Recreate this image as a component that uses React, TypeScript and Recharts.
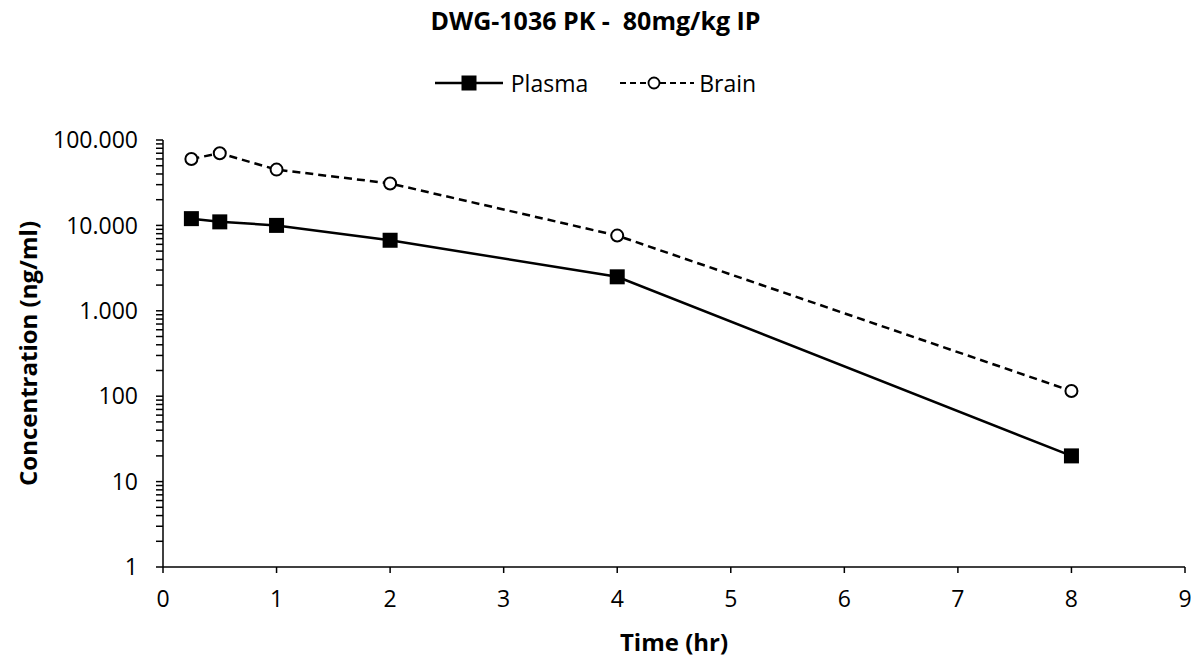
import React from 'react';
import { LineChart, Line, XAxis, YAxis, Legend, Label } from 'recharts';

// sampling times (hr) and measured concentrations (ng/ml)
const times = [0.25, 0.5, 1, 2, 4, 8];
const plasma = [12000, 11000, 10000, 6700, 2500, 20];
const brain = [60000, 70000, 45000, 31000, 7600, 115];

const xTicks = [0, 1, 2, 3, 4, 5, 6, 7, 8, 9];
const yMajorTicks = [1, 10, 100, 1000, 10000, 100000];
// minor ticks 2..9 inside every decade
const yMinorTicks = yMajorTicks.slice(0, -1).flatMap((d) => [2, 3, 4, 5, 6, 7, 8, 9].map((k) => d * k));
const yTicks = [...yMajorTicks, ...yMinorTicks].sort((a, b) => a - b);

const data = times.map((t, i) => ({ time: t, plasma: plasma[i], brain: brain[i] }));

const FONT = '"Open Sans", "Noto Sans", sans-serif';
const W = 1191;
const H = 660;

// thousands separated with a dot, labels only on the decades
const fmt = (v: number) =>
  yMajorTicks.includes(v) ? String(v).replace(/\B(?=(\d{3})+(?!\d))/g, '.') : '';

const SquareDot = (props: any) => {
  const { cx, cy } = props;
  if (cx == null || cy == null) return null;
  return <rect x={cx - 7.5} y={cy - 7.5} width={15} height={15} fill="#000" />;
};

const CircleDot = (props: any) => {
  const { cx, cy } = props;
  if (cx == null || cy == null) return null;
  return <circle cx={cx} cy={cy} r={6} fill="#fff" stroke="#000" strokeWidth={2} />;
};

const LegendContent = () => (
  <div
    style={{
      height: 30,
      display: 'flex',
      justifyContent: 'center',
      alignItems: 'center',
      fontFamily: FONT,
      fontSize: 23,
      color: '#000',
    }}
  >
    <svg width={68} height={20} style={{ marginRight: 8 }}>
      <line x1={0} y1={10} x2={68} y2={10} stroke="#000" strokeWidth={2.5} />
      <rect x={26.5} y={2.5} width={15} height={15} fill="#000" />
    </svg>
    <span>Plasma</span>
    <svg width={74} height={20} style={{ marginLeft: 32, marginRight: 5 }}>
      <line x1={0} y1={10} x2={74} y2={10} stroke="#000" strokeWidth={2} strokeDasharray="6 4" />
      <circle cx={34} cy={10} r={5.5} fill="#fff" stroke="#000" strokeWidth={1.8} />
    </svg>
    <span>Brain</span>
  </div>
);

export default function App() {
  return (
    <div style={{ position: 'absolute', left: 0, top: 0, width: W, height: H, background: '#fff' }}>
      <div
        style={{
          position: 'absolute',
          top: 3,
          left: 0,
          width: W,
          textAlign: 'center',
          fontFamily: FONT,
          fontWeight: 700,
          fontSize: 25,
          color: '#000',
          whiteSpace: 'pre',
        }}
      >
        {'DWG-1036 PK -  80mg/kg IP'}
      </div>
      <LineChart
        width={W}
        height={H}
        data={data}
        margin={{ top: 110, right: 6, bottom: 8, left: 0 }}
        style={{ fontFamily: FONT }}
      >
        <Legend
          verticalAlign="top"
          align="center"
          layout="horizontal"
          content={<LegendContent />}
          wrapperStyle={{ top: 68, left: 0, width: W }}
        />
        <XAxis
          dataKey="time"
          type="number"
          domain={[0, 9]}
          ticks={xTicks}
          interval={0}
          height={85}
          tickSize={6}
          tickMargin={18}
          stroke="#000"
          strokeWidth={1.5}
          tick={{ fill: '#000', fontSize: 23, fontFamily: FONT }}
        >
          <Label
            value="Time (hr)"
            position="insideBottom"
            offset={1}
            style={{ fill: '#000', fontSize: 24, fontWeight: 700, fontFamily: FONT }}
          />
        </XAxis>
        <YAxis
          scale="log"
          domain={[1, 100000]}
          ticks={yTicks}
          interval={0}
          width={163}
          tickSize={7}
          tickMargin={18}
          tickFormatter={fmt}
          stroke="#000"
          strokeWidth={1.5}
          allowDataOverflow
          tick={{ fill: '#000', fontSize: 23, fontFamily: FONT }}
        >
          <Label
            value="Concentration (ng/ml)"
            angle={-90}
            position="insideLeft"
            offset={28}
            style={{ textAnchor: 'middle', fill: '#000', fontSize: 24, fontWeight: 700, fontFamily: FONT }}
          />
        </YAxis>
        <Line
          dataKey="plasma"
          type="linear"
          stroke="#000"
          strokeWidth={2.5}
          dot={<SquareDot />}
          activeDot={false}
          isAnimationActive={false}
        />
        <Line
          dataKey="brain"
          type="linear"
          stroke="#000"
          strokeWidth={2.5}
          strokeDasharray="8 5"
          dot={<CircleDot />}
          activeDot={false}
          isAnimationActive={false}
        />
      </LineChart>
    </div>
  );
}
